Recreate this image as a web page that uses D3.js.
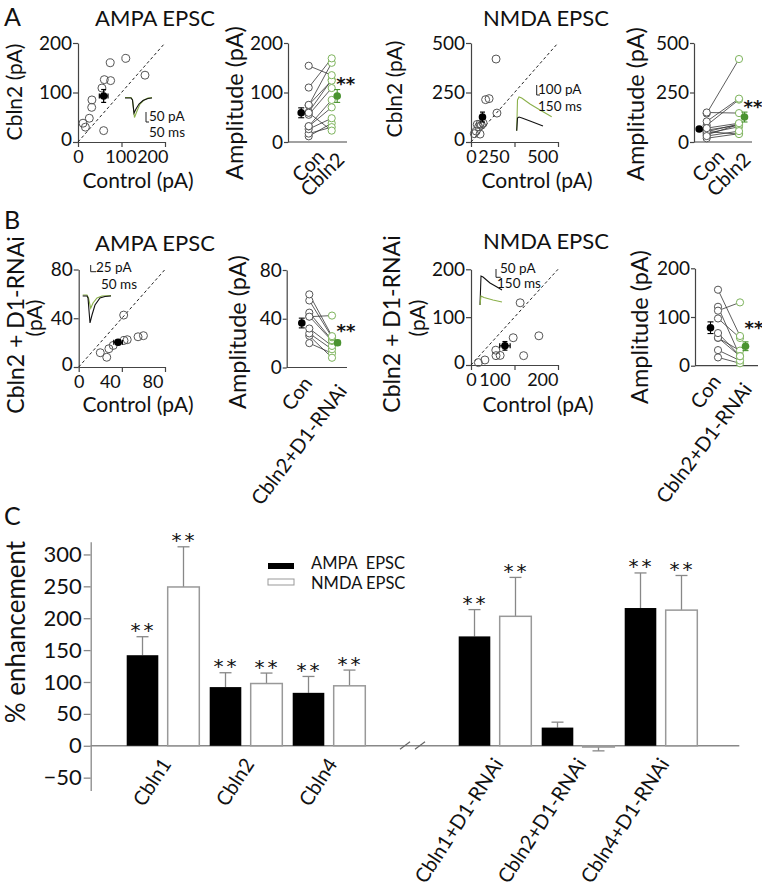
<!DOCTYPE html>
<html><head><meta charset="utf-8">
<script src="https://cdn.jsdelivr.net/npm/d3@7"></script>
<style>body{margin:0;background:#fff} svg{font-family:Lato,'Open Sans',sans-serif}</style>
</head><body><svg id="c" width="762" height="887"></svg>
<script>
// ---------------- DATA ----------------
// Panel A, AMPA EPSC (Control vs Cbln2), pA
const aAmpaCtrl  = [11.5, 17, 26, 31.5, 32, 55, 60.5, 74, 75, 59, 110, 154];
const aAmpaCbln2 = [38, 30, 48, 70, 85, 109, 126, 160, 124, 23, 169, 135];
const aAmpaMean  = [59, 93];
const aAmpaSem   = [10, 13];
// Panel A, NMDA EPSC
const aNmdaCtrl  = [144, 84, 104, 149, 36, 52, 44, 60, 19, 52, 30, 70];
const aNmdaCbln2 = [419, 214, 219, 146, 89, 91, 77, 85, 42, 40, 55, 95];
const aNmdaMean  = [66, 126];
const aNmdaSem   = [8, 25];
// Panel B, AMPA EPSC (Control vs Cbln2 + D1-RNAi)
const bAmpaCtrl  = [20, 26, 28, 32, 42, 45, 41.7, 55, 60];
const bAmpaKd    = [11.7, 8, 15, 17.7, 21.8, 22.4, 42.6, 24.8, 25.7];
const bAmpaMean  = [36.5, 20.3];
const bAmpaSem   = [4, 2];
// Panel B, NMDA EPSC
const bNmdaCtrl  = [17, 32, 57, 57.5, 67, 97, 121, 113, 156];
const bNmdaKd    = [5, 10.5, 31, 19.5, 20, 57, 19.5, 130, 61];
const bNmdaMean  = [78, 40];
const bNmdaSem   = [12, 9];
// Panel C, % enhancement
const cCategories = ["Cbln1", "Cbln2", "Cbln4", "", "Cbln1+D1-RNAi", "Cbln2+D1-RNAi", "Cbln4+D1-RNAi"];
const cGroups     = ["Cbln1", "Cbln2", "Cbln4", "Cbln1+D1-RNAi", "Cbln2+D1-RNAi", "Cbln4+D1-RNAi"];
const cAmpa       = [142, 92, 83, 171.5, 28.5, 216];
const cAmpaErr    = [29, 22.5, 25.7, 42, 8.5, 55];
const cNmda       = [249, 97.6, 94, 203, -2, 212.7];
const cNmdaErr    = [63, 16.4, 24.7, 61, 6, 54.3];
const cSig        = [true, true, true, true, false, true];
const cTicks      = [-50, 0, 50, 100, 150, 200, 250, 300];
const cSeries     = ["AMPA  EPSC", "NMDA EPSC"];
// Example traces (time ms, current pA)
const trAmpaA_t_blk = [0,100,125,150,183,233,300,383,450];
const trAmpaA_v_blk = [0,0,-10,-75,-55,-30,-12.5,-2.5,0];
const trAmpaA_t_grn = [0,100,125,158,200,250,317,383,450];
const trAmpaA_v_grn = [2.5,2.5,-10,-97.5,-65,-30,-10,0,2.5];
const trNmdaA_t_grn = [0,36,105,227,605,1059,1591];
const trNmdaA_v_grn = [0,307,337,327,267,207,140];
const trNmdaA_t_blk = [0,36,105,241,605,1195];
const trNmdaA_v_blk = [0,127,137,127,97,47];
const trAmpaB_t_blk = [0,40.6,50,68.9,87.7,116,163,210,267];
const trAmpaB_v_blk = [0,0,-7.5,-100.7,-70.9,-33.6,-7.5,-1.9,0];
const trAmpaB_t_grn = [0,40.6,54.7,75.5,97.2,135,182,267];
const trAmpaB_v_grn = [3.7,3.7,-7.5,-45.9,-26.1,-7.5,0,1.9];
const trNmdaB_t_blk = [0,32,96,319.5,543,703];
const trNmdaB_v_blk = [0,174.7,168.7,132.5,108.4,90.4];
const trNmdaB_t_grn = [0,32,128,415,703];
const trNmdaB_v_grn = [0,54,45,30,18];

// ---------------- STYLE ----------------
const AX = '#444', GT = '#8bb04a', GO = '#7db35c', GM = '#4a9330';
const STAR_FONT = "'DejaVu Sans',sans-serif";
const svg = d3.select('#c');

function styleAxis(g, fs){
  g.attr('font-family', null).attr('font-size', fs);
  g.select('.domain').attr('stroke', AX).attr('stroke-width', 1.2);
  g.selectAll('.tick line').attr('stroke', AX).attr('stroke-width', 1.2);
  g.selectAll('.tick text').attr('fill', '#111');
}
function txt(x, y, s, fs, opt = {}){
  const t = svg.append('text').attr('x', x).attr('y', y).text(s).attr('font-size', fs).attr('fill', opt.fill || '#111');
  if (opt.anchor) t.attr('text-anchor', opt.anchor);
  if (opt.rot !== undefined) t.attr('transform', `rotate(${opt.rot},${x},${y})`);
  if (opt.ls) t.attr('letter-spacing', opt.ls);
  if (opt.ff) t.attr('font-family', opt.ff);
  if (opt.fw) t.attr('font-weight', opt.fw);
  return t;
}
function errBar(x, y1, y2, cap, color, w){
  const g = svg.append('g').attr('stroke', color).attr('stroke-width', w || 1.2);
  g.append('line').attr('x1', x).attr('x2', x).attr('y1', y1).attr('y2', y2);
  g.append('line').attr('x1', x - cap).attr('x2', x + cap).attr('y1', y2).attr('y2', y2);
  return g;
}

function scatter(o){
  const x = d3.scaleLinear().domain([0, o.max]).range([o.left, o.right]);
  const y = d3.scaleLinear().domain([0, o.max]).range([o.bottom, o.top]);
  const gx = svg.append('g').attr('transform', `translate(0,${o.bottom})`)
    .call(d3.axisBottom(x).tickValues(o.ticks).tickSize(5).tickSizeOuter(0).tickPadding(3));
  styleAxis(gx, 18);
  gx.selectAll('.tick text').attr('dx', (d, i) => o.tdx[i])
    .attr('text-anchor', (d, i) => i === o.ticks.length - 1 ? 'end' : 'middle');
  const gy = svg.append('g').attr('transform', `translate(${o.left},0)`)
    .call(d3.axisLeft(y).tickValues(o.ticks).tickSize(5).tickSizeOuter(0).tickPadding(1));
  styleAxis(gy, 19);
  gy.selectAll('.tick text').filter(d => d === 0).attr('dy', '0.2em');
  svg.append('line').attr('x1', x(0)).attr('y1', y(0)).attr('x2', x(o.max)).attr('y2', y(o.max))
    .attr('stroke', '#222').attr('stroke-width', 1).attr('stroke-dasharray', '3,2.5');
  svg.append('g').selectAll('circle').data(d3.zip(o.ctrl, o.exp)).join('circle')
    .attr('cx', d => x(d[0])).attr('cy', d => y(d[1])).attr('r', 4)
    .attr('fill', 'none').attr('stroke', '#555').attr('stroke-width', 1);
  const [mx, my] = o.mean, [sx, sy] = o.sem;
  const g = svg.append('g').attr('stroke', '#000').attr('stroke-width', 1.2);
  g.append('line').attr('x1', x(mx - sx)).attr('x2', x(mx + sx)).attr('y1', y(my)).attr('y2', y(my));
  g.append('line').attr('x1', x(mx)).attr('x2', x(mx)).attr('y1', y(my - sy)).attr('y2', y(my + sy));
  [[x(mx - sx), y(my), 1], [x(mx + sx), y(my), 1], [x(mx), y(my - sy), 0], [x(mx), y(my + sy), 0]].forEach(c => {
    if (c[2]) g.append('line').attr('x1', c[0]).attr('x2', c[0]).attr('y1', c[1] - 2.5).attr('y2', c[1] + 2.5);
    else g.append('line').attr('x1', c[0] - 2.5).attr('x2', c[0] + 2.5).attr('y1', c[1]).attr('y2', c[1]);
  });
  svg.append('circle').attr('cx', x(mx)).attr('cy', y(my)).attr('r', 3.8).attr('fill', '#000');
}

function paired(o){
  const y = d3.scaleLinear().domain([0, o.max]).range([o.bottom, o.top]);
  const x = d3.scalePoint().domain(['Con', o.label]).range([o.cx1, o.cx2]);
  const gy = svg.append('g').attr('transform', `translate(${o.left},0)`)
    .call(d3.axisLeft(y).tickValues(o.ticks).tickSize(4).tickSizeOuter(0).tickPadding(1));
  styleAxis(gy, 19);
  svg.append('line').attr('x1', o.left).attr('x2', o.right).attr('y1', y(0)).attr('y2', y(0)).attr('stroke', AX).attr('stroke-width', 1.2);
  const pairs = d3.zip(o.ctrl, o.exp);
  svg.append('g').selectAll('line').data(pairs).join('line')
    .attr('x1', x('Con')).attr('x2', x(o.label)).attr('y1', d => y(d[0])).attr('y2', d => y(d[1]))
    .attr('stroke', '#333').attr('stroke-width', 0.8);
  svg.append('g').selectAll('circle').data(o.ctrl).join('circle')
    .attr('cx', x('Con')).attr('cy', d => y(d)).attr('r', 3.6).attr('fill', '#fff').attr('stroke', '#555');
  svg.append('g').selectAll('circle').data(o.exp).join('circle')
    .attr('cx', x(o.label)).attr('cy', d => y(d)).attr('r', 3.6).attr('fill', '#fff').attr('stroke', GO);
  const m1 = x('Con') - 7.5, m2 = x(o.label) + 5.5;
  [[m1, o.mean[0], o.sem[0], '#000'], [m2, o.mean[1], o.sem[1], GM]].forEach(([cx, m, s, c]) => {
    const g = svg.append('g').attr('stroke', c).attr('stroke-width', 1.1);
    g.append('line').attr('x1', cx).attr('x2', cx).attr('y1', y(m - s)).attr('y2', y(m + s));
    g.append('line').attr('x1', cx - 3).attr('x2', cx + 3).attr('y1', y(m - s)).attr('y2', y(m - s));
    g.append('line').attr('x1', cx - 3).attr('x2', cx + 3).attr('y1', y(m + s)).attr('y2', y(m + s));
    svg.append('circle').attr('cx', cx).attr('cy', y(m)).attr('r', 3.8).attr('fill', c);
  });
  txt(m2 + 8.5, y(o.mean[1]) + o.starDy, '**', 18, {anchor: 'middle', ff: STAR_FONT, fw: 'bold'});
  txt(x('Con') + o.lx[0], y(0) + o.ly[0], 'Con', 20, {anchor: 'end', rot: o.rot});
  txt(x(o.label) + o.lx[1], y(0) + o.ly[1], o.label, 20, {anchor: 'end', rot: o.rot});
}

function trace(ox, oy, pxPerMs, pxPerPa, t, v, color){
  const sx = d3.scaleLinear().domain([0, 1]).range([ox, ox + pxPerMs]);
  const sy = d3.scaleLinear().domain([0, 1]).range([oy, oy - pxPerPa]);
  svg.append('path').datum(d3.zip(t, v)).attr('fill', 'none').attr('stroke', color).attr('stroke-width', 1.1)
    .attr('d', d3.line().x(d => sx(d[0])).y(d => sy(d[1])));
}
function scaleBar(x, y, h, w, l1, l2, p1, p2){
  svg.append('path').attr('d', `M${x},${y - h}V${y}H${x + w}`).attr('fill', 'none').attr('stroke', '#222').attr('stroke-width', 1);
  txt(p1[0], p1[1], l1, 13.5);
  txt(p2[0], p2[1], l2, 13.5);
}

// ---------------- PANEL LABELS / TITLES ----------------
txt(4, 26, 'A', 25); txt(4, 229, 'B', 25); txt(4, 525, 'C', 25);
txt(155, 26, 'AMPA EPSC', 22, {anchor: 'middle'});
txt(546, 26, 'NMDA EPSC', 22, {anchor: 'middle'});
txt(155, 251, 'AMPA EPSC', 22, {anchor: 'middle'});
txt(546, 249, 'NMDA EPSC', 22, {anchor: 'middle'});

// ---------------- PANEL A ----------------
scatter({left: 78, right: 165, top: 43, bottom: 142, max: 200, ticks: [0, 100, 200], tdx: [0, -1, 3],
  ctrl: aAmpaCtrl, exp: aAmpaCbln2, mean: aAmpaMean, sem: aAmpaSem});
txt(22, 92, 'Cbln2 (pA)', 21, {anchor: 'middle', rot: -90});
txt(138, 188, 'Control (pA)', 21, {anchor: 'middle'});
trace(125, 98, 0.06, 0.2, trAmpaA_t_grn, trAmpaA_v_grn, GT);
trace(125, 98, 0.06, 0.2, trAmpaA_t_blk, trAmpaA_v_blk, '#111');
scaleBar(146, 122, 10, 3, '50 pA', '50 ms', [149, 121], [149, 137]);

paired({left: 288, right: 347, cx1: 308.7, cx2: 331.7, top: 43, bottom: 142, max: 200, ticks: [0, 100, 200],
  ctrl: aAmpaCtrl, exp: aAmpaCbln2, mean: aAmpaMean, sem: aAmpaSem, label: 'Cbln2', starDy: -6,
  lx: [17, 14], ly: [16, 19], rot: -45});
txt(243, 103, 'Amplitude (pA)', 23.5, {anchor: 'middle', rot: -90});

scatter({left: 471, right: 558, top: 43, bottom: 142, max: 500, ticks: [0, 250, 500], tdx: [0, -21, 0],
  ctrl: aNmdaCtrl, exp: aNmdaCbln2, mean: aNmdaMean, sem: aNmdaSem});
txt(402, 89, 'Cbln2 (pA)', 21, {anchor: 'middle', rot: -90});
txt(537, 188, 'Control (pA)', 21, {anchor: 'middle'});
trace(516.7, 130.7, 0.022, 0.1, trNmdaA_t_grn, trNmdaA_v_grn, GT);
trace(516.7, 130.7, 0.022, 0.1, trNmdaA_t_blk, trNmdaA_v_blk, '#111');
scaleBar(536.7, 95, 10, 3.3, '100 pA', '150 ms', [538, 94], [538, 111]);

paired({left: 694, right: 752, cx1: 706.7, cx2: 739, top: 43, bottom: 142, max: 500, ticks: [0, 250, 500],
  ctrl: aNmdaCtrl, exp: aNmdaCbln2, mean: aNmdaMean, sem: aNmdaSem, label: 'Cbln2', starDy: -4,
  lx: [19, 13], ly: [16, 19], rot: -45});
txt(644, 104, 'Amplitude (pA)', 23.5, {anchor: 'middle', rot: -90});

// ---------------- PANEL B ----------------
scatter({left: 78.7, right: 165, top: 269.5, bottom: 367, max: 80, ticks: [0, 40, 80], tdx: [0, -12, -2],
  ctrl: bAmpaCtrl, exp: bAmpaKd, mean: bAmpaMean, sem: bAmpaSem});
txt(23.5, 325, 'Cbln2 + D1-RNAi', 23, {anchor: 'middle', rot: -90});
txt(42, 318, '(pA)', 21, {anchor: 'middle', rot: -90});
txt(138, 412, 'Control (pA)', 21, {anchor: 'middle'});
trace(82.7, 296, 0.106, 0.268, trAmpaB_t_grn, trAmpaB_v_grn, GT);
trace(82.7, 296, 0.106, 0.268, trAmpaB_t_blk, trAmpaB_v_blk, '#111');
scaleBar(90.7, 271.7, 6.7, 5.3, '25 pA', '50 ms', [96, 271.7], [101, 289]);

paired({left: 286.7, right: 347, cx1: 309.3, cx2: 332, top: 270, bottom: 367.5, max: 80, ticks: [0, 40, 80],
  ctrl: bAmpaCtrl, exp: bAmpaKd, mean: bAmpaMean, sem: bAmpaSem, label: 'Cbln2+D1-RNAi', starDy: -6,
  lx: [4, 16], ly: [16, 24], rot: -53});
txt(246, 332, 'Amplitude (pA)', 23.5, {anchor: 'middle', rot: -90});

scatter({left: 471, right: 558, top: 269.3, bottom: 365, max: 200, ticks: [0, 100, 200], tdx: [0, -20, 0],
  ctrl: bNmdaCtrl, exp: bNmdaKd, mean: bNmdaMean, sem: bNmdaSem});
txt(400, 324, 'Cbln2 + D1-RNAi', 23, {anchor: 'middle', rot: -90});
txt(425, 318, '(pA)', 21, {anchor: 'middle', rot: -90});
txt(538, 412, 'Control (pA)', 21, {anchor: 'middle'});
trace(480, 305, 0.0313, 0.166, trNmdaB_t_blk, trNmdaB_v_blk, '#111');
trace(480, 305, 0.0313, 0.166, trNmdaB_t_grn, trNmdaB_v_grn, GT);
scaleBar(496, 277.3, 8.3, 4.7, '50 pA', '150 ms', [500, 273], [497, 288]);

paired({left: 695, right: 758, cx1: 718, cx2: 740, top: 268.3, bottom: 365.7, max: 200, ticks: [0, 100, 200],
  ctrl: bNmdaCtrl, exp: bNmdaKd, mean: bNmdaMean, sem: bNmdaSem, label: 'Cbln2+D1-RNAi', starDy: -12,
  lx: [4, 13], ly: [16, 24], rot: -53});
txt(648, 327, 'Amplitude (pA)', 23.5, {anchor: 'middle', rot: -90});

// ---------------- PANEL C ----------------
(function(){
  const y = d3.scaleLinear().domain([-70, 320]).range([790.4, 541.7]);
  const x0 = d3.scaleBand().domain(cCategories.map((d, i) => i)).range([121.5, 702.5]).padding(0);
  const x1 = d3.scaleBand().domain(cSeries).range([5.2, 77.8]).paddingInner(0.229);
  const gx = i => x0(cCategories.indexOf(cGroups[i]));
  const gy = svg.append('g').attr('transform', 'translate(90.7,0)')
    .call(d3.axisLeft(y).tickValues(cTicks).tickSize(7).tickSizeOuter(0).tickPadding(2));
  gy.attr('font-family', null).attr('font-size', 22);
  gy.select('.domain').attr('stroke', '#888').attr('stroke-width', 1.3);
  gy.selectAll('.tick line').attr('stroke', '#888').attr('stroke-width', 1.3);
  gy.selectAll('.tick text').attr('fill', '#111');
  svg.append('line').attr('x1', 90.7).attr('x2', 739.3).attr('y1', y(0)).attr('y2', y(0)).attr('stroke', '#888').attr('stroke-width', 1.3);
  [400, 415].forEach(bx => svg.append('line').attr('x1', bx).attr('y1', y(0) + 3.5).attr('x2', bx + 10).attr('y2', y(0) - 4).attr('stroke', '#666').attr('stroke-width', 1.2));
  const series = [[cAmpa, cAmpaErr, '#000', '#000'], [cNmda, cNmdaErr, '#fff', '#999']];
  series.forEach(([vals, errs, fill, stroke], si) => {
    const key = cSeries[si];
    vals.forEach((v, i) => {
      const bx = gx(i) + x1(key), bw = x1.bandwidth();
      const cx = bx + bw / 2;
      const e = v >= 0 ? v + errs[i] : v - errs[i];
      errBar(cx, y(v), y(e), 6, '#888', 1.3);
      svg.append('rect').attr('x', bx).attr('width', bw).attr('y', y(Math.max(0, v))).attr('height', Math.abs(y(v) - y(0)))
        .attr('fill', fill).attr('stroke', stroke).attr('stroke-width', si ? 1.5 : 0);
      if (cSig[i]) txt(cx + 1, y(e) + 0.5, '**', 20, {anchor: 'middle', ls: 3, ff: STAR_FONT});
    });
  });
  cGroups.forEach((gname, i) => {
    const cx = gx(i) + x0.bandwidth() / 2;
    txt(cx + 9, 764, gname, 20, {anchor: 'end', rot: -57});
  });
  txt(25, 632, '% enhancement', 26, {anchor: 'middle', rot: -90});
  svg.append('rect').attr('x', 268).attr('y', 563).attr('width', 26).attr('height', 6).attr('fill', '#000');
  svg.append('rect').attr('x', 268).attr('y', 579).attr('width', 26).attr('height', 6).attr('fill', '#fff').attr('stroke', '#999');
  txt(311, 568.5, cSeries[0], 16.5).style('white-space', 'pre');
  txt(311, 588.5, cSeries[1], 16.5);
})();
</script></body></html>
